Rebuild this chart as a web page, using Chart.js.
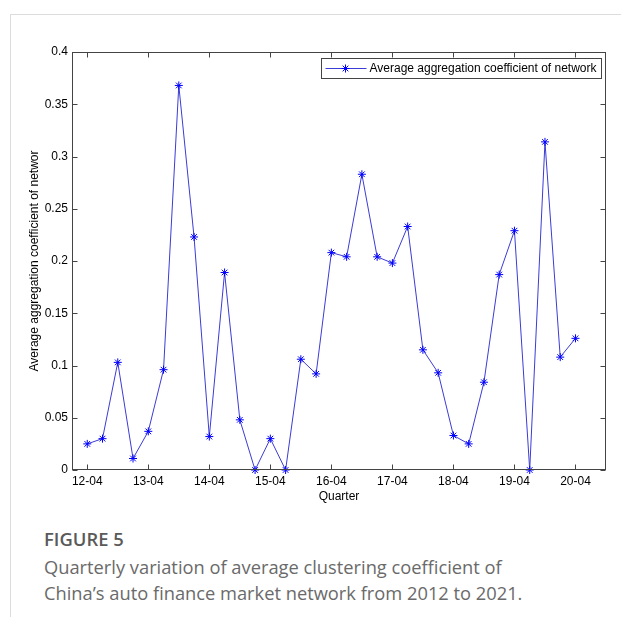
<!DOCTYPE html>
<html>
<head>
<meta charset="utf-8">
<script src="https://cdn.jsdelivr.net/npm/chart.js@4.4.1/dist/chart.umd.min.js"></script>
<style>
  html, body { margin: 0; padding: 0; background: #fff; }
  body { width: 621px; height: 617px; position: relative; overflow: hidden; font-family: "Open Sans", "Noto Sans", sans-serif; }
  #frame { position: absolute; left: 10px; top: 14px; width: 640px; height: 640px; border-left: 1px solid #dcdcdc; border-top: 1px solid #dcdcdc; }
  #wrap { position: absolute; left: 0; top: 0; width: 621px; height: 508px; }
  #fig { position: absolute; left: 44px; top: 526px; font-size: 18.4px; font-weight: 600; color: #5a5a5a; }
  #cap { position: absolute; left: 44px; top: 554px; font-size: 18.3px; line-height: 26px; color: #6a6a6a; }
</style>
</head>
<body>
<div id="frame"></div>
<div id="wrap"><canvas id="chart"></canvas></div>
<div id="fig">FIGURE 5</div>
<div id="cap">Quarterly variation of average clustering coefficient of<br>China’s auto finance market network from 2012 to 2021.</div>
<script>
// quarters, every 4th one gets a tick label
const quarters = [
    '12-04', '12-07', '12-10', '13-01', '13-04', '13-07', '13-10', '14-01',
    '14-04', '14-07', '14-10', '15-01', '15-04', '15-07', '15-10', '16-01',
    '16-04', '16-07', '16-10', '17-01', '17-04', '17-07', '17-10', '18-01',
    '18-04', '18-07', '18-10', '19-01', '19-04', '19-07', '19-10', '20-01',
    '20-04'
];
const coefficient = [
    0.025, 0.030, 0.103, 0.011, 0.037, 0.096, 0.368, 0.223,
    0.032, 0.189, 0.048, 0.000, 0.030, 0.000, 0.106, 0.092,
    0.208, 0.204, 0.283, 0.204, 0.198, 0.233, 0.115, 0.093,
    0.033, 0.025, 0.084, 0.187, 0.229, 0.000, 0.314, 0.108,
    0.126
];
const seriesLabel = 'Average aggregation coefficient of network';

Chart.defaults.font.family = '"Liberation Sans", Arial, sans-serif';
Chart.defaults.font.size = 12;
Chart.defaults.color = '#000';

const lineColor = '#3b3bd6';
const markColor = '#0000ff';
const axisColor = '#444';

function star(ctx, x, y) {
    Chart.helpers.drawPoint(ctx, { pointStyle: 'star', radius: 4, rotation: 0, borderWidth: 1 }, x, y);
}

// matlab style box, inward ticks and legend
const matlabFrame = {
    id: 'matlabFrame',
    afterDraw(chart) {
        const ctx = chart.ctx;
        const a = chart.chartArea;
        const x = chart.scales.x;
        const y = chart.scales.y;
        const L = Math.round(a.left) + 0.5, R = Math.round(a.right) - 0.5;
        const T = Math.round(a.top) + 0.5, B = Math.round(a.bottom) - 0.5;
        ctx.save();
        ctx.strokeStyle = axisColor;
        ctx.lineWidth = 1;
        ctx.strokeRect(L, T, R - L, B - T);
        ctx.beginPath();
        x.ticks.forEach(t => {
            const px = Math.round(x.getPixelForValue(t.value)) + 0.5;
            ctx.moveTo(px, B); ctx.lineTo(px, B - 5);
            ctx.moveTo(px, T); ctx.lineTo(px, T + 5);
        });
        y.ticks.forEach(t => {
            const py = Math.round(y.getPixelForValue(t.value)) + 0.5;
            ctx.moveTo(L, py); ctx.lineTo(L + 5, py);
            ctx.moveTo(R, py); ctx.lineTo(R - 5, py);
        });
        ctx.stroke();

        // legend box
        const bw = 280, bh = 20;
        const bx = Math.round(a.right) - bw - 5 + 0.5, by = Math.round(a.top) + 6 + 0.5;
        ctx.fillStyle = '#fff';
        ctx.fillRect(bx, by, bw, bh);
        ctx.strokeStyle = axisColor;
        ctx.strokeRect(bx, by, bw, bh);
        const my = by + bh / 2;
        ctx.strokeStyle = lineColor;
        ctx.beginPath();
        ctx.moveTo(bx + 4, my); ctx.lineTo(bx + 45, my);
        ctx.stroke();
        ctx.strokeStyle = markColor;
        star(ctx, bx + 24, my);
        ctx.fillStyle = '#000';
        ctx.font = '12px "Liberation Sans", Arial, sans-serif';
        ctx.textBaseline = 'middle';
        ctx.fillText(chart.data.datasets[0].label, bx + 48, my + 0.5);
        ctx.restore();
    }
};

const config = {
    type: 'line',
    data: {
        datasets: [{
            label: seriesLabel,
            data: coefficient.map((v, i) => ({ x: i + 1, y: v })),
            borderColor: lineColor,
            borderWidth: 1,
            tension: 0,
            fill: false,
            pointStyle: 'star',
            pointRadius: 4,
            pointBorderColor: markColor,
            pointBorderWidth: 1,
            clip: false,
        }]
    },
    options: {
        responsive: true,
        maintainAspectRatio: false,
        animation: false,
        layout: {
            padding: { left: 23, right: 15, top: 52, bottom: 0 }
        },
        scales: {
            x: {
                type: 'linear',
                min: 0,
                max: 35,
                grid: { display: false, drawTicks: false, tickLength: 0 },
                border: { display: false },
                afterBuildTicks: scale => {
                    scale.ticks = quarters.map((q, i) => ({ value: i + 1 })).filter((t, i) => i % 4 === 0);
                },
                afterFit: scale => { scale.height = 38; },
                ticks: {
                    autoSkip: false,
                    maxRotation: 0,
                    padding: 4,
                    callback: v => quarters[v - 1],
                },
                title: {
                    display: true,
                    text: 'Quarter',
                    padding: { top: 0, bottom: 4 },
                },
            },
            y: {
                min: 0,
                max: 0.4,
                grid: { display: false, drawTicks: false, tickLength: 0 },
                border: { display: false },
                afterFit: scale => { scale.width = 49; },
                ticks: {
                    stepSize: 0.05,
                    padding: 4,
                    callback: v => String(Math.round(v * 100) / 100),
                },
                title: {
                    display: true,
                    text: 'Average aggregation coefficient of networ',
                    padding: { top: 4, bottom: 0 },
                },
            }
        },
        plugins: {
            legend: { display: false },
            tooltip: { enabled: false },
        }
    },
    plugins: [matlabFrame]
};

let clustering = new Chart(document.getElementById('chart'), config);
</script>
</body>
</html>
